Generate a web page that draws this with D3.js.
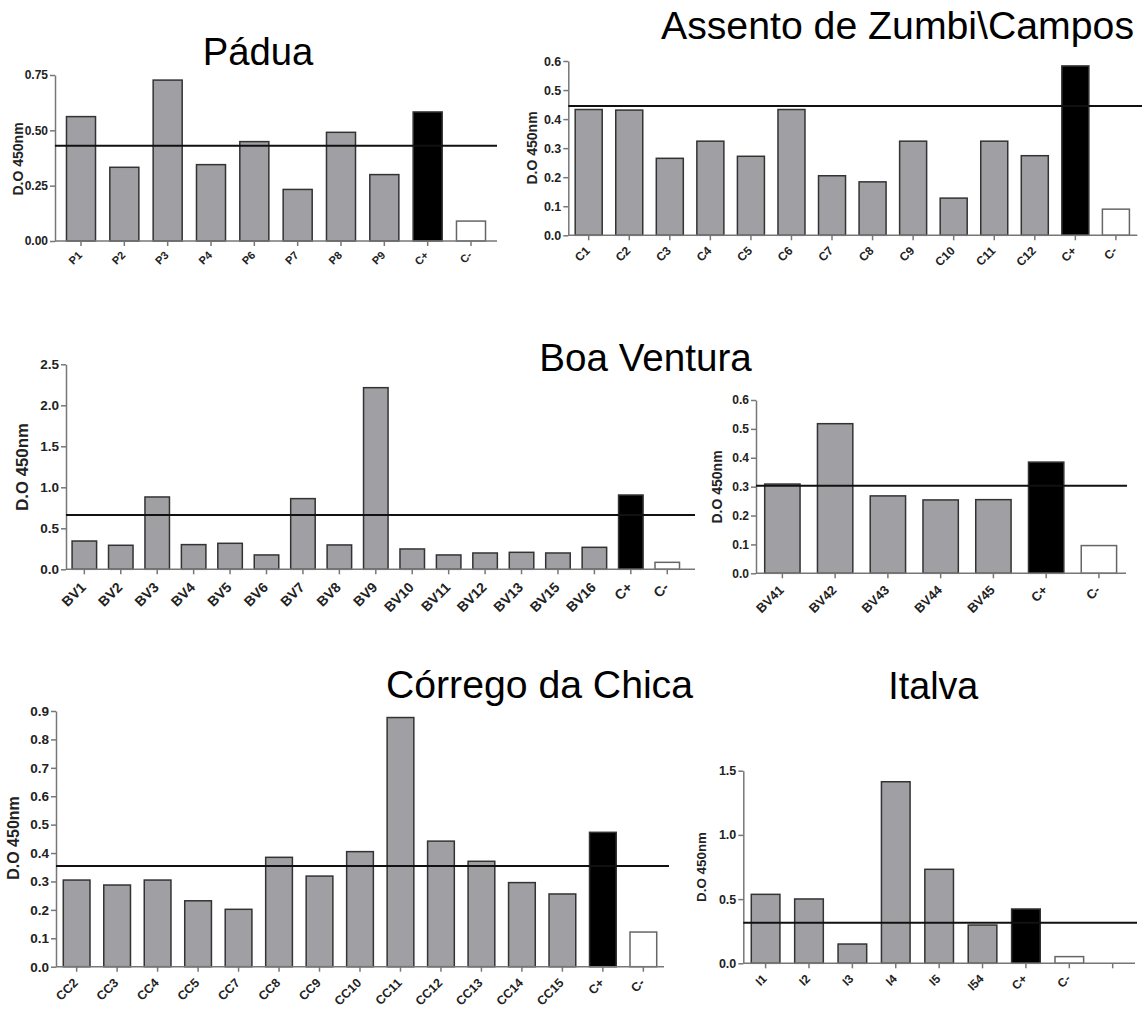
<!DOCTYPE html>
<html>
<head>
<meta charset="utf-8">
<script src="https://cdn.jsdelivr.net/npm/d3@7"></script>
<style>
  body { margin: 0; background: #fff; }
  svg { display: block; font-family: "Liberation Sans", Arial, sans-serif; }
</style>
</head>
<body>
<svg id="chart" width="1142" height="1009"></svg>
<script>
// Pádua
var paduaLabels = ["P1", "P2", "P3", "P4", "P6", "P7", "P8", "P9", "C+", "C-"];
var paduaValues = [0.562, 0.333, 0.727, 0.345, 0.449, 0.233, 0.491, 0.300, 0.583, 0.090];
var paduaCutoff = 0.43;
var paduaTicks = [0, 0.25, 0.5, 0.75];

// Assento de Zumbi\Campos
var camposLabels = ["C1", "C2", "C3", "C4", "C5", "C6", "C7", "C8", "C9", "C10", "C11", "C12", "C+", "C-"];
var camposValues = [0.433, 0.431, 0.265, 0.324, 0.272, 0.433, 0.205, 0.184, 0.324, 0.128, 0.324, 0.274, 0.583, 0.090];
var camposCutoff = 0.445;
var camposTicks = [0, 0.1, 0.2, 0.3, 0.4, 0.5, 0.6];

// Boa Ventura (left)
var bvLabels = ["BV1", "BV2", "BV3", "BV4", "BV5", "BV6", "BV7", "BV8", "BV9", "BV10", "BV11", "BV12", "BV13", "BV15", "BV16", "C+", "C-"];
var bvValues = [0.345, 0.293, 0.882, 0.301, 0.317, 0.175, 0.862, 0.297, 2.215, 0.248, 0.175, 0.199, 0.207, 0.199, 0.268, 0.906, 0.085];
var bvCutoff = 0.662;
var bvTicks = [0, 0.5, 1.0, 1.5, 2.0, 2.5];

// Boa Ventura (right)
var bv4Labels = ["BV41", "BV42", "BV43", "BV44", "BV45", "C+", "C-"];
var bv4Values = [0.309, 0.518, 0.268, 0.254, 0.255, 0.385, 0.096];
var bv4Cutoff = 0.3035;
var bv4Ticks = [0, 0.1, 0.2, 0.3, 0.4, 0.5, 0.6];

// Córrego da Chica
var ccLabels = ["CC2", "CC3", "CC4", "CC5", "CC7", "CC8", "CC9", "CC10", "CC11", "CC12", "CC13", "CC14", "CC15", "C+", "C-"];
var ccValues = [0.305, 0.2875, 0.305, 0.232, 0.202, 0.385, 0.319, 0.405, 0.877, 0.442, 0.371, 0.296, 0.256, 0.473, 0.122];
var ccCutoff = 0.354;
var ccTicks = [0, 0.1, 0.2, 0.3, 0.4, 0.5, 0.6, 0.7, 0.8, 0.9];

// Italva (last slot is empty in the original)
var italvaLabels = ["I1", "I2", "I3", "I4", "I5", "I54", "C+", "C-", ""];
var italvaValues = [0.537, 0.501, 0.150, 1.414, 0.732, 0.298, 0.423, 0.052, null];
var italvaCutoff = 0.3166;
var italvaTicks = [0, 0.5, 1.0, 1.5];

var svg = d3.select("#chart");

function drawPanel(p) {
  var g = svg.append("g");

  var x = d3.scaleBand()
    .domain(p.labels)
    .range([p.left, p.right])
    .paddingInner(p.padIn)
    .paddingOuter(p.padOut);

  var y = d3.scaleLinear()
    .domain([0, p.ticks[p.ticks.length - 1]])
    .range([p.bottom, p.top]);

  var rows = p.labels.map(function(l, i) { return { label: l, value: p.values[i] }; })
    .filter(function(d) { return d.value != null; });

  g.selectAll("rect")
    .data(rows)
    .enter().append("rect")
    .attr("x", function(d) { return x(d.label); })
    .attr("width", x.bandwidth())
    .attr("y", function(d) { return y(d.value); })
    .attr("height", function(d) { return y(0) - y(d.value); })
    .attr("fill", function(d) {
      if (d.label == "C+") return "#000";
      if (d.label == "C-") return "#fff";
      return "#a0a0a4";
    })
    .attr("stroke", function(d) { return d.label == "C-" ? "#666" : "#333"; })
    .attr("stroke-width", 1.5);

  // y axis
  var yAxis = g.append("g")
    .attr("transform", "translate(" + p.left + ",0)")
    .call(d3.axisLeft(y).tickValues(p.ticks).tickFormat(d3.format(p.fmt))
      .tickSize(5).tickSizeOuter(0).tickPadding(2));
  yAxis.select(".domain").attr("stroke", "#777").attr("stroke-width", 1.5);
  yAxis.selectAll(".tick line").attr("stroke", "#777").attr("stroke-width", 1.5);
  yAxis.selectAll("text")
    .attr("fill", "#222")
    .style("font-size", p.yFont + "px")
    .style("font-weight", "bold");

  // x axis, labels slanted 45 degrees
  var xAxis = g.append("g")
    .attr("transform", "translate(0," + p.bottom + ")")
    .call(d3.axisBottom(x).tickSize(5).tickSizeOuter(0));
  xAxis.select(".domain").remove();
  xAxis.selectAll(".tick line").attr("stroke", "#777").attr("stroke-width", 1.5);
  var off = Math.round(11 * p.xFont) / 10;
  xAxis.selectAll(".tick text")
    .attr("x", 0)
    .attr("y", 0)
    .attr("dy", "0.35em")
    .attr("text-anchor", "end")
    .attr("transform", "translate(-1," + off + ") rotate(-45)")
    .attr("fill", "#222")
    .style("font-size", p.xFont + "px")
    .style("font-weight", "bold");
  g.append("line")
    .attr("x1", p.left).attr("x2", p.axisEnd)
    .attr("y1", p.bottom).attr("y2", p.bottom)
    .attr("stroke", "#777").attr("stroke-width", 1.5);

  // cut-off line
  g.append("line")
    .attr("x1", p.left).attr("x2", p.lineEnd)
    .attr("y1", y(p.cutoff)).attr("y2", y(p.cutoff))
    .attr("stroke", "#111").attr("stroke-width", 2);

  // axis title
  g.append("text")
    .attr("transform", "translate(" + p.labelX + "," + p.labelY + ") rotate(-90)")
    .attr("text-anchor", "middle")
    .attr("dy", "0.35em")
    .style("font-size", p.labelFont + "px")
    .style("font-weight", "bold")
    .attr("fill", "#222")
    .text("D.O 450nm");
}

function drawTitle(t) {
  svg.append("text")
    .attr("x", t.x)
    .attr("y", t.y)
    .attr("textLength", t.width)
    .attr("lengthAdjust", "spacingAndGlyphs")
    .style("font-size", "38px")
    .attr("fill", "#000")
    .text(t.text);
}

drawPanel({ labels: paduaLabels, values: paduaValues, cutoff: paduaCutoff, ticks: paduaTicks, fmt: ".2f",
  left: 55, right: 497, axisEnd: 497, lineEnd: 497, bottom: 241, top: 75, padIn: 0.33, padOut: 0.265,
  yFont: 12, xFont: 11, labelFont: 14, labelX: 18, labelY: 159 });

drawPanel({ labels: camposLabels, values: camposValues, cutoff: camposCutoff, ticks: camposTicks, fmt: ".1f",
  left: 568.3, right: 1136.3, axisEnd: 1137.3, lineEnd: 1142, bottom: 235.3, top: 61, padIn: 0.334, padOut: 0.17,
  yFont: 12.5, xFont: 12, labelFont: 14, labelX: 532, labelY: 148 });

drawPanel({ labels: bvLabels, values: bvValues, cutoff: bvCutoff, ticks: bvTicks, fmt: ".1f",
  left: 66, right: 685.6, axisEnd: 695, lineEnd: 695, bottom: 569.3, top: 364.3, padIn: 0.327, padOut: 0.167,
  yFont: 13.5, xFont: 14, labelFont: 16.8, labelX: 22, labelY: 467 });

drawPanel({ labels: bv4Labels, values: bv4Values, cutoff: bv4Cutoff, ticks: bv4Ticks, fmt: ".1f",
  left: 756, right: 1125.3, axisEnd: 1126, lineEnd: 1127, bottom: 573.3, top: 400, padIn: 0.33, padOut: 0.165,
  yFont: 12, xFont: 13, labelFont: 14, labelX: 717, labelY: 487 });

drawPanel({ labels: ccLabels, values: ccValues, cutoff: ccCutoff, ticks: ccTicks, fmt: ".1f",
  left: 56, right: 664, axisEnd: 664, lineEnd: 669, bottom: 966.7, top: 711, padIn: 0.34, padOut: 0.18,
  yFont: 13.5, xFont: 12.5, labelFont: 16, labelX: 13.5, labelY: 838 });

drawPanel({ labels: italvaLabels, values: italvaValues, cutoff: italvaCutoff, ticks: italvaTicks, fmt: ".1f",
  left: 743.3, right: 1135, axisEnd: 1135, lineEnd: 1137, bottom: 963.3, top: 770.7, padIn: 0.34, padOut: 0.184,
  yFont: 12.5, xFont: 12, labelFont: 13.4, labelX: 701, labelY: 867 });

drawTitle({ text: "Pádua", x: 202.7, y: 65, width: 110.6 });
drawTitle({ text: "Assento de Zumbi\\Campos", x: 661, y: 39.3, width: 473 });
drawTitle({ text: "Boa Ventura", x: 539.3, y: 370.7, width: 212.4 });
drawTitle({ text: "Córrego da Chica", x: 386, y: 698.3, width: 307 });
drawTitle({ text: "Italva", x: 888.3, y: 699.3, width: 90 });
</script>
</body>
</html>
